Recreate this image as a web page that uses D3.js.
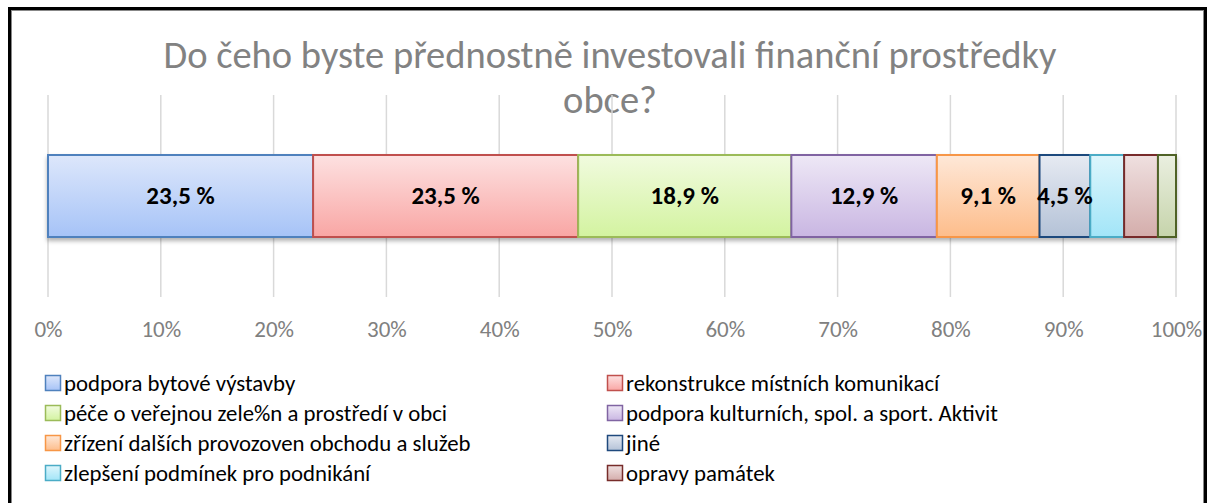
<!DOCTYPE html>
<html>
<head>
<meta charset="utf-8">
<script src="https://cdn.jsdelivr.net/npm/d3@7"></script>
<style>
  body { margin: 0; background: #fff; }
  svg text { font-family: Carlito, Lato, "Open Sans", sans-serif; }
</style>
</head>
<body>
<div id="chart"></div>
<script>
const categories = [
  "podpora bytové výstavby",
  "rekonstrukce místních komunikací",
  "péče o veřejnou zele%n a prostředí v obci",
  "podpora kulturních, spol. a sport. Aktivit",
  "zřízení dalších provozoven obchodu a služeb",
  "jiné",
  "zlepšení podmínek pro podnikání",
  "opravy památek",
  "ostatní"
];
const values = [23.5, 23.5, 18.9, 12.9, 9.1, 4.5, 3.0, 3.0, 1.6];
const ticks = [0, 0.1, 0.2, 0.3, 0.4, 0.5, 0.6, 0.7, 0.8, 0.9, 1];
const strokes = ["#4f81bd", "#c0504d", "#9bbb59", "#8064a2", "#f79646", "#1f497d", "#4bacc6", "#772c2a", "#4f6228"];
const tops = ["#dde7fb", "#fde1e1", "#f1fbdf", "#eee8f6", "#fee8d8", "#e6eaf2", "#def6fc", "#efe0e0", "#eaefe0"];
const bottoms = ["#a6c3f7", "#f9a6a4", "#d3f3a0", "#c9b6e2", "#fdbd8b", "#b4c2d7", "#a2e5f8", "#d4adab", "#c6d4ab"];

const renderChart = (container) => {
  const width = 1208, height = 503;
  const x0 = 48, x1 = 1176,
    barTop = 155, barHeight = 82,
    gridTop = 95, gridBottom = 297;

  const svg = d3.select(container).append("svg")
    .attr("width", width)
    .attr("height", height);

  const defs = svg.append("defs");
  categories.forEach((c, i) => {
    const g = defs.append("linearGradient")
      .attr("id", "grad" + i)
      .attr("x1", 0).attr("y1", 0).attr("x2", 0).attr("y2", 1);
    g.append("stop").attr("offset", "0%").attr("stop-color", tops[i]);
    g.append("stop").attr("offset", "100%").attr("stop-color", bottoms[i]);
  });
  defs.append("filter").attr("id", "shadow")
    .attr("x", "-5%").attr("y", "-20%").attr("width", "110%").attr("height", "150%")
    .append("feDropShadow")
    .attr("dx", 0).attr("dy", 3).attr("stdDeviation", 2)
    .attr("flood-color", "#000").attr("flood-opacity", 0.3);

  // outer frame
  svg.append("rect")
    .attr("x", 9.5).attr("y", 8.5)
    .attr("width", 1196).attr("height", 500)
    .attr("fill", "none").attr("stroke", "#000").attr("stroke-width", 3);
  svg.append("rect")
    .attr("x", 11.5).attr("y", 10.5)
    .attr("width", 1192).attr("height", 500)
    .attr("fill", "none").attr("stroke", "#888").attr("stroke-width", 1);

  // title
  const title = svg.append("text")
    .attr("text-anchor", "middle")
    .attr("fill", "#828282")
    .style("font-size", "38.5px");
  title.append("tspan").attr("x", 610).attr("y", 68)
    .text("Do čeho byste přednostně investovali finanční prostředky");
  title.append("tspan").attr("x", 610).attr("y", 113).text("obce?");

  const x = d3.scaleLinear().domain([0, 1]).range([x0, x1]);

  // gridlines
  svg.append("g")
    .selectAll("line")
    .data(ticks)
    .join("line")
    .attr("x1", d => x(d)).attr("x2", d => x(d))
    .attr("y1", gridTop).attr("y2", gridBottom)
    .attr("stroke", "#d9d9d9").attr("stroke-width", 1.5);

  // axis
  const axis = svg.append("g")
    .attr("transform", `translate(0,${gridBottom})`)
    .call(d3.axisBottom(x).tickValues(ticks).tickFormat(d3.format(".0%")).tickSize(0).tickPadding(24));
  axis.select(".domain").remove();
  axis.selectAll("text")
    .attr("fill", "#808080")
    .style("font-size", "23px")
    .style("font-family", "Carlito, Lato, 'Open Sans', sans-serif");

  // stacked data
  let acc = 0;
  const segs = values.map((v, i) => {
    const s = { i, v, start: acc / 100, end: (acc + v) / 100 };
    acc += v;
    return s;
  });

  const bars = svg.append("g").attr("filter", "url(#shadow)");
  bars.selectAll("rect")
    .data(segs)
    .join("rect")
    .attr("x", d => x(d.start))
    .attr("y", barTop)
    .attr("width", d => x(d.end) - x(d.start))
    .attr("height", barHeight)
    .attr("fill", d => `url(#grad${d.i})`)
    .attr("stroke", d => strokes[d.i])
    .attr("stroke-width", 2);

  const fmt = v => v.toFixed(1).replace(".", ",") + " %";
  svg.append("g")
    .selectAll("text")
    .data(segs.filter(d => d.v >= 4))
    .join("text")
    .attr("x", d => (x(d.start) + x(d.end)) / 2)
    .attr("y", barTop + barHeight / 2 + 8)
    .attr("text-anchor", "middle")
    .style("font-size", "25px")
    .style("font-weight", "bold")
    .attr("fill", "#000")
    .text(d => fmt(d.v));

  // legend (the last entry falls below the visible frame in the original)
  const legend = svg.append("g")
    .selectAll("g")
    .data(categories.slice(0, 8))
    .join("g")
    .attr("transform", (d, i) => `translate(${i % 2 ? 607 : 45},${375 + Math.floor(i / 2) * 30})`);
  legend.append("rect")
    .attr("x", 0.5).attr("y", 0.5)
    .attr("width", 15).attr("height", 15)
    .attr("fill", (d, i) => `url(#grad${i})`)
    .attr("stroke", (d, i) => strokes[i])
    .attr("stroke-width", 1.5);
  legend.append("text")
    .attr("x", 19).attr("y", 16)
    .style("font-size", "22.8px")
    .attr("fill", "#000")
    .text(d => d);
};

renderChart("#chart");
</script>
</body>
</html>
